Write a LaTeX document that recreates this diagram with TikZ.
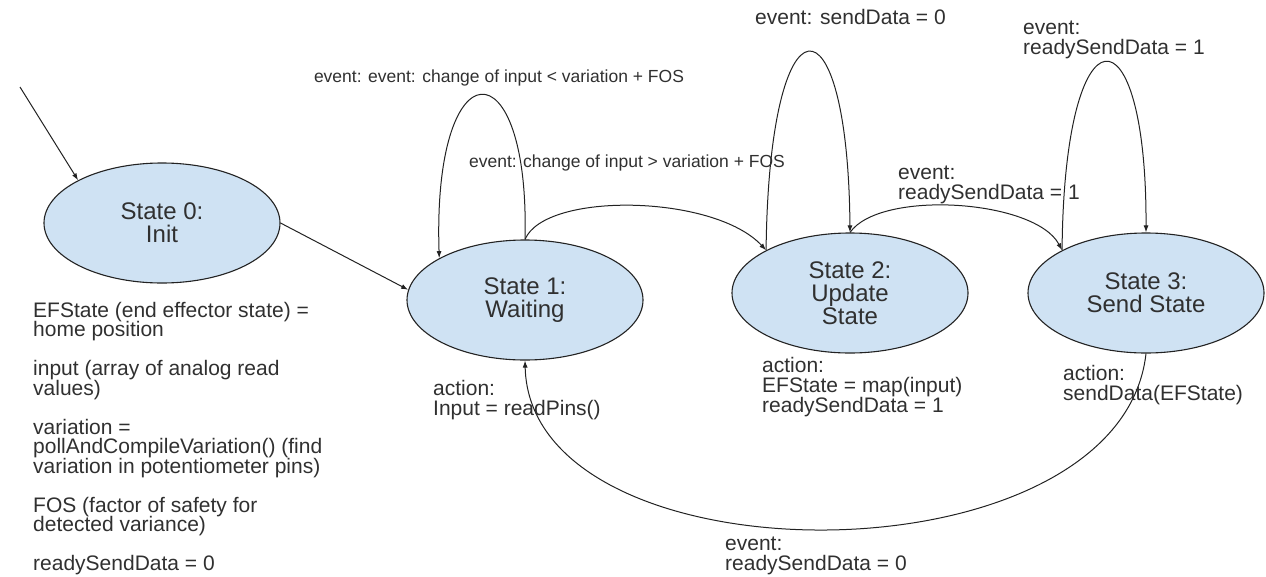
\documentclass[tikz,border=0pt]{standalone}
\usepackage{fontspec}
\setmainfont{Liberation Sans}
\usetikzlibrary{shapes.geometric,arrows.meta}
\definecolor{statefill}{HTML}{CFE2F3}
\definecolor{ink}{HTML}{303030}
\definecolor{wire}{HTML}{222222}
\newcommand\tightlines{\lineskiplimit=-10pt\relax}
\begin{document}
\begin{tikzpicture}[x=1pt,y=-1pt,
  state/.style={ellipse,draw=wire,line width=1.1pt,fill=statefill,
    minimum width=236pt,minimum height=120pt,inner sep=0pt,align=center,
    font=\fontsize{24}{23}\selectfont,text=ink},
  lbl/.style={inner sep=0pt,align=left,anchor=west,
    font=\fontsize{21}{20}\selectfont\tightlines,text=ink},
  smalllbl/.style={inner sep=0pt,font=\fontsize{17.5}{20}\selectfont,text=ink},
  conn/.style={draw=wire,line width=1pt,-{Latex[length=7pt,width=5pt]}}]
\path[use as bounding box] (0,0) rectangle (1266,576);

% states
\node[state] (s0) at (162,223) {State 0:\\Init};
\node[state] (s1) at (525,300) {State 1:\\Waiting};
\node[state] (s2) at (850,293) {State 2:\\Update\\State};
\node[state] (s3) at (1146,293) {State 3:\\Send State};

% initial transition
\coordinate (start) at (20,87);
\draw[conn] (start) -- (s0.153);
\draw[conn] (s0.east) -- (s1.175);

% self loops
\draw[conn] (s1.north) .. controls +(5,-196) and +(-7,-214) .. (s1.154);
\draw[conn] (s2.153) .. controls +(3,-261) and +(-2,-244) .. (s2.north);
\draw[conn] (s3.153) .. controls +(2,-248) and +(1,-230) .. (s3.north);

% forward transitions
\draw[conn] (s1.north) .. controls +(20,-48) and +(-52,-56) .. (s2.153);
\draw[conn] (s2.north) .. controls +(30,-43) and +(-27,-51) .. (s3.153);

% return transition
\draw[conn] (s3.south) .. controls +(-26,233) and +(5,226) .. (s1.south);

% transition labels
\node[smalllbl] (l1) at (499,78) {event: event: change of input < variation + FOS};
\node[smalllbl] (l12) at (627,163) {event: change of input > variation + FOS};
\node[lbl] (l2) at (755,17) {event: sendData = 0};
\node[lbl] (l3) at (1023,40) {event:\\readySendData = 1};
\node[lbl] (l23) at (898,185) {event:\\readySendData = 1};
\node[lbl] (l31) at (725,556) {event:\\readySendData = 0};

% actions
\node[lbl] (a1) at (433,400) {action:\\Input = readPins()};
\node[lbl] (a2) at (762,387) {action:\\EFState = map(input)\\readySendData = 1};
\node[lbl] (a3) at (1063,385) {action:\\sendData(EFState)};

% variable notes
\node[lbl,anchor=north west,font=\fontsize{21}{19.5}\selectfont\tightlines] (vars) at (33,302)
  {EFState (end effector state) =\\home position\\[19.5pt]
   input (array of analog read\\values)\\[19.5pt]
   variation =\\pollAndCompileVariation() (find\\variation in potentiometer pins)\\[19.5pt]
   FOS (factor of safety for\\detected variance)\\[19.5pt]
   readySendData = 0};
\end{tikzpicture}
\end{document}
